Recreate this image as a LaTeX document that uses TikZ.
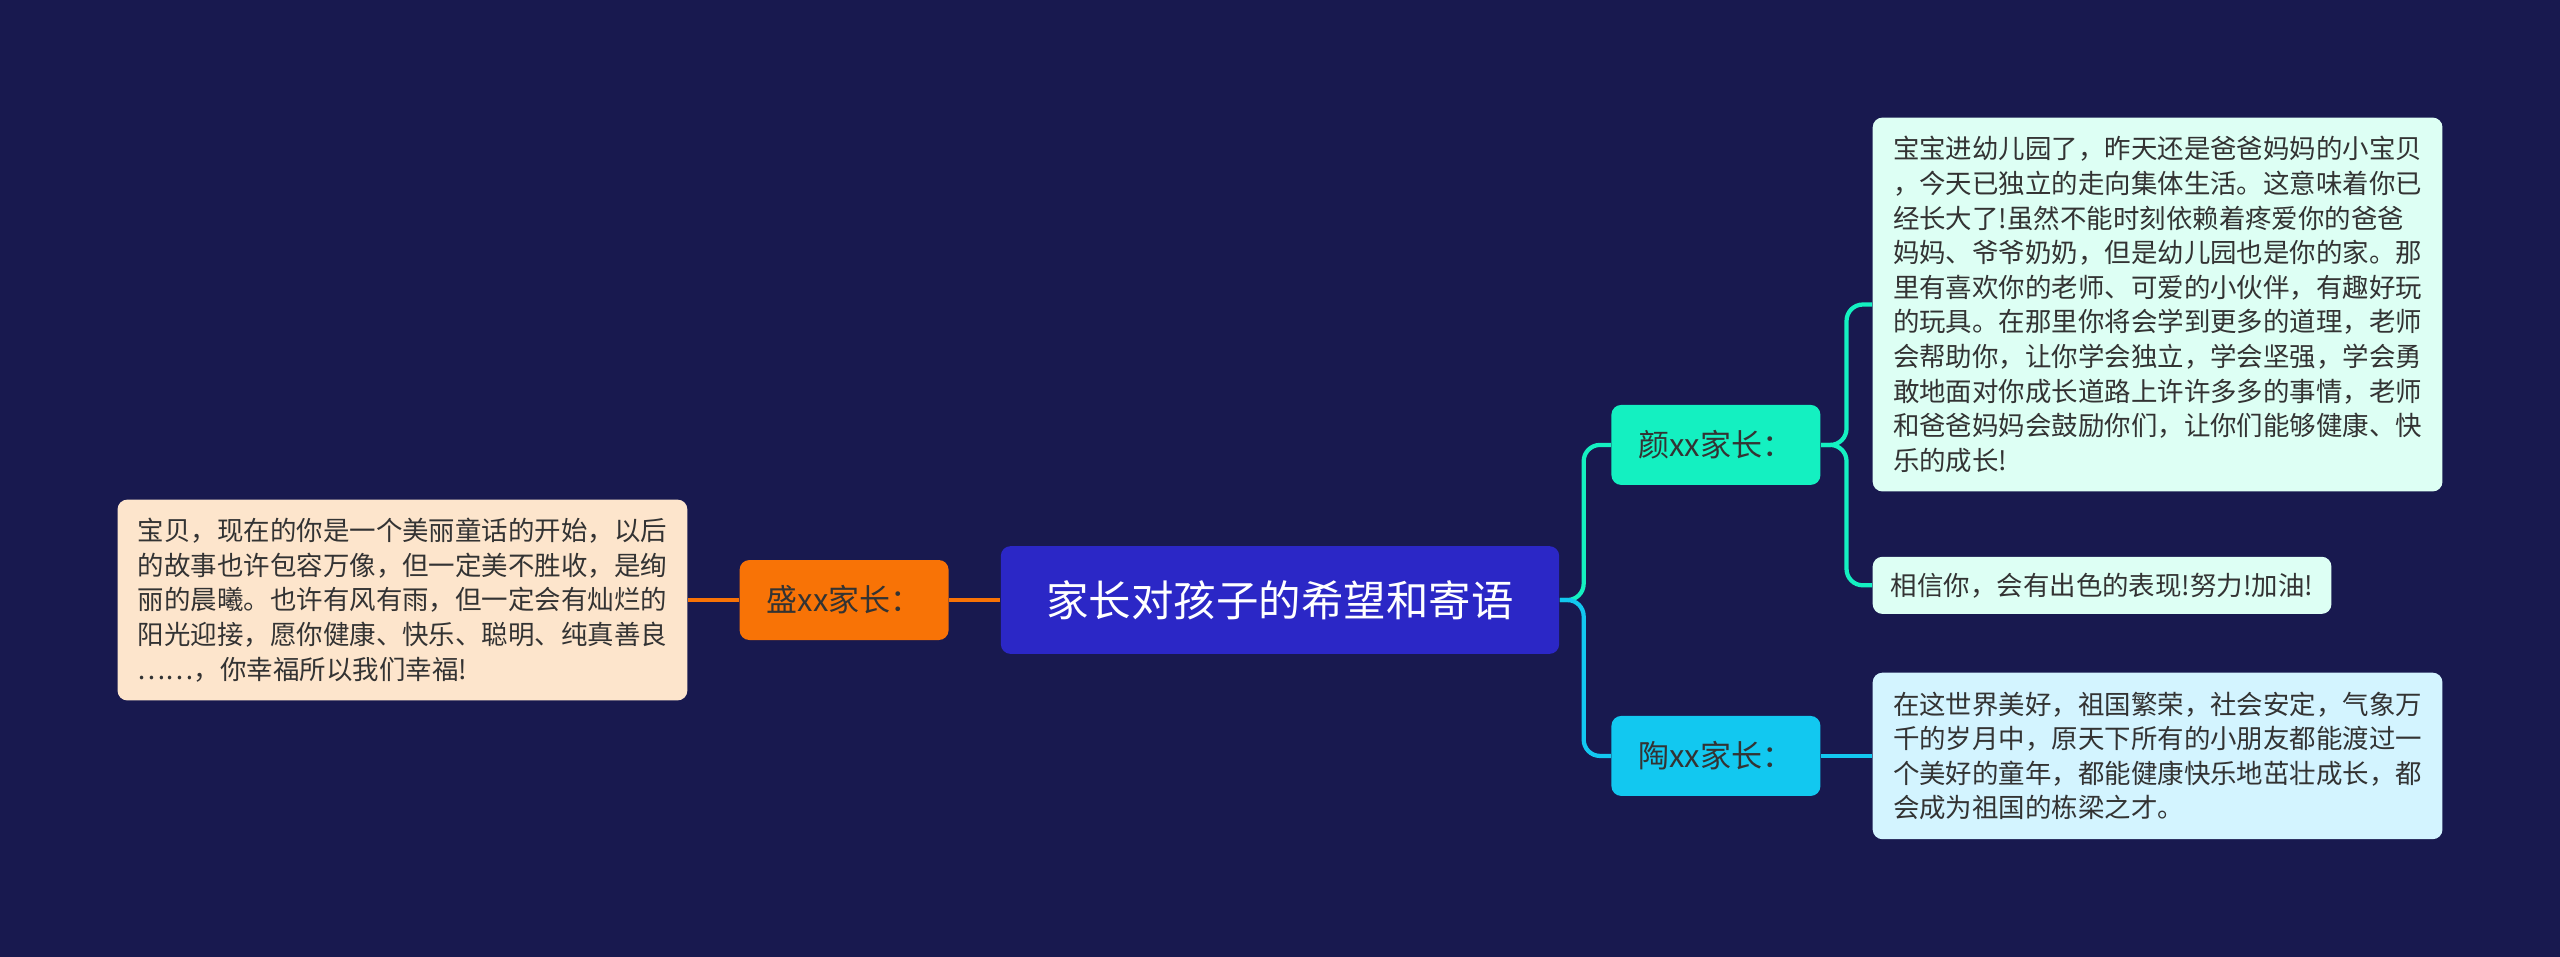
\documentclass[tikz,border=0pt]{standalone}
\usepackage{fontspec}
\setmainfont{Noto Sans CJK SC}
\definecolor{bg}{HTML}{18194F}
\definecolor{cRoot}{HTML}{2B27C6}
\definecolor{cOr}{HTML}{F87306}
\definecolor{cGr}{HTML}{14F0C1}
\definecolor{cCy}{HTML}{12C8F0}
\definecolor{cPeach}{HTML}{FDE5CC}
\definecolor{cLG}{HTML}{DDFFF4}
\definecolor{cLC}{HTML}{D3F4FF}
\begin{document}
\begin{tikzpicture}[x=0.5pt,y=-0.5pt,
  box/.style={rounded corners=3pt,inner sep=0pt,anchor=center},
  leaf/.style={box,align=left,font=\fontsize{8.1}{10.6}\selectfont,text=black!80},
  conn/.style={line width=1.3pt,rounded corners=5pt}]
\fill[bg] (0,0) rectangle (1568,586);
\useasboundingbox (0,0) rectangle (1568,586);
% root
\node[box,fill=cRoot,text=white,minimum width=171pt,minimum height=33pt,font=\fontsize{13}{15}\selectfont] (root) at (784,367.5) {家长对孩子的希望和寄语};
% left
\node[box,fill=cOr,text=black!80,minimum width=64pt,minimum height=24.5pt,font=\fontsize{9.5}{11}\selectfont] (L) at (517,367.5) {盛xx家长：};
\node[leaf,fill=cPeach,minimum width=174.5pt,minimum height=61.5pt] (LL) at (246.5,367.5) {宝贝，现在的你是一个美丽童话的开始，以后\\的故事也许包容万像，但一定美不胜收，是绚\\丽的晨曦。也许有风有雨，但一定会有灿烂的\\阳光迎接，愿你健康、快乐、聪明、纯真善良\\……，你幸福所以我们幸福!};
% right
\node[box,fill=cGr,text=black!80,minimum width=64pt,minimum height=24.5pt,font=\fontsize{9.5}{11}\selectfont] (R1) at (1051,272.5) {颜xx家长：};
\node[box,fill=cCy,text=black!80,minimum width=64pt,minimum height=24.5pt,font=\fontsize{9.5}{11}\selectfont] (R2) at (1051,463) {陶xx家长：};
\node[leaf,fill=cLG,minimum width=174.5pt,minimum height=114.5pt] (A) at (1321.5,186.5) {宝宝进幼儿园了，昨天还是爸爸妈妈的小宝贝\\，今天已独立的走向集体生活。这意味着你已\\经长大了!虽然不能时刻依赖着疼爱你的爸爸\\妈妈、爷爷奶奶，但是幼儿园也是你的家。那\\里有喜欢你的老师、可爱的小伙伴，有趣好玩\\的玩具。在那里你将会学到更多的道理，老师\\会帮助你，让你学会独立，学会坚强，学会勇\\敢地面对你成长道路上许许多多的事情，老师\\和爸爸妈妈会鼓励你们，让你们能够健康、快\\乐的成长!};
\node[leaf,fill=cLG,minimum width=140.5pt,minimum height=17.5pt] (B) at (1287.5,358.5) {相信你，会有出色的表现!努力!加油!};
\node[leaf,fill=cLC,minimum width=174.5pt,minimum height=51pt] (C) at (1321.5,463) {在这世界美好，祖国繁荣，社会安定，气象万\\千的岁月中，原天下所有的小朋友都能渡过一\\个美好的童年，都能健康快乐地茁壮成长，都\\会成为祖国的栋梁之才。};
% connectors
\draw[conn,cOr] (root.west) -- (L.east);
\draw[conn,cOr] (L.west) -- (LL.east);
\draw[conn,cGr] (root.east) -- (970,367.5) |- (R1.west);
\draw[conn,cCy] (root.east) -- (970,367.5) |- (R2.west);
\draw[conn,cGr] (R1.east) -- (1131,272.5) |- (A.west);
\draw[conn,cGr] (R1.east) -- (1131,272.5) |- (B.west);
\draw[conn,cCy] (R2.east) -- (C.west);
\end{tikzpicture}
\end{document}
